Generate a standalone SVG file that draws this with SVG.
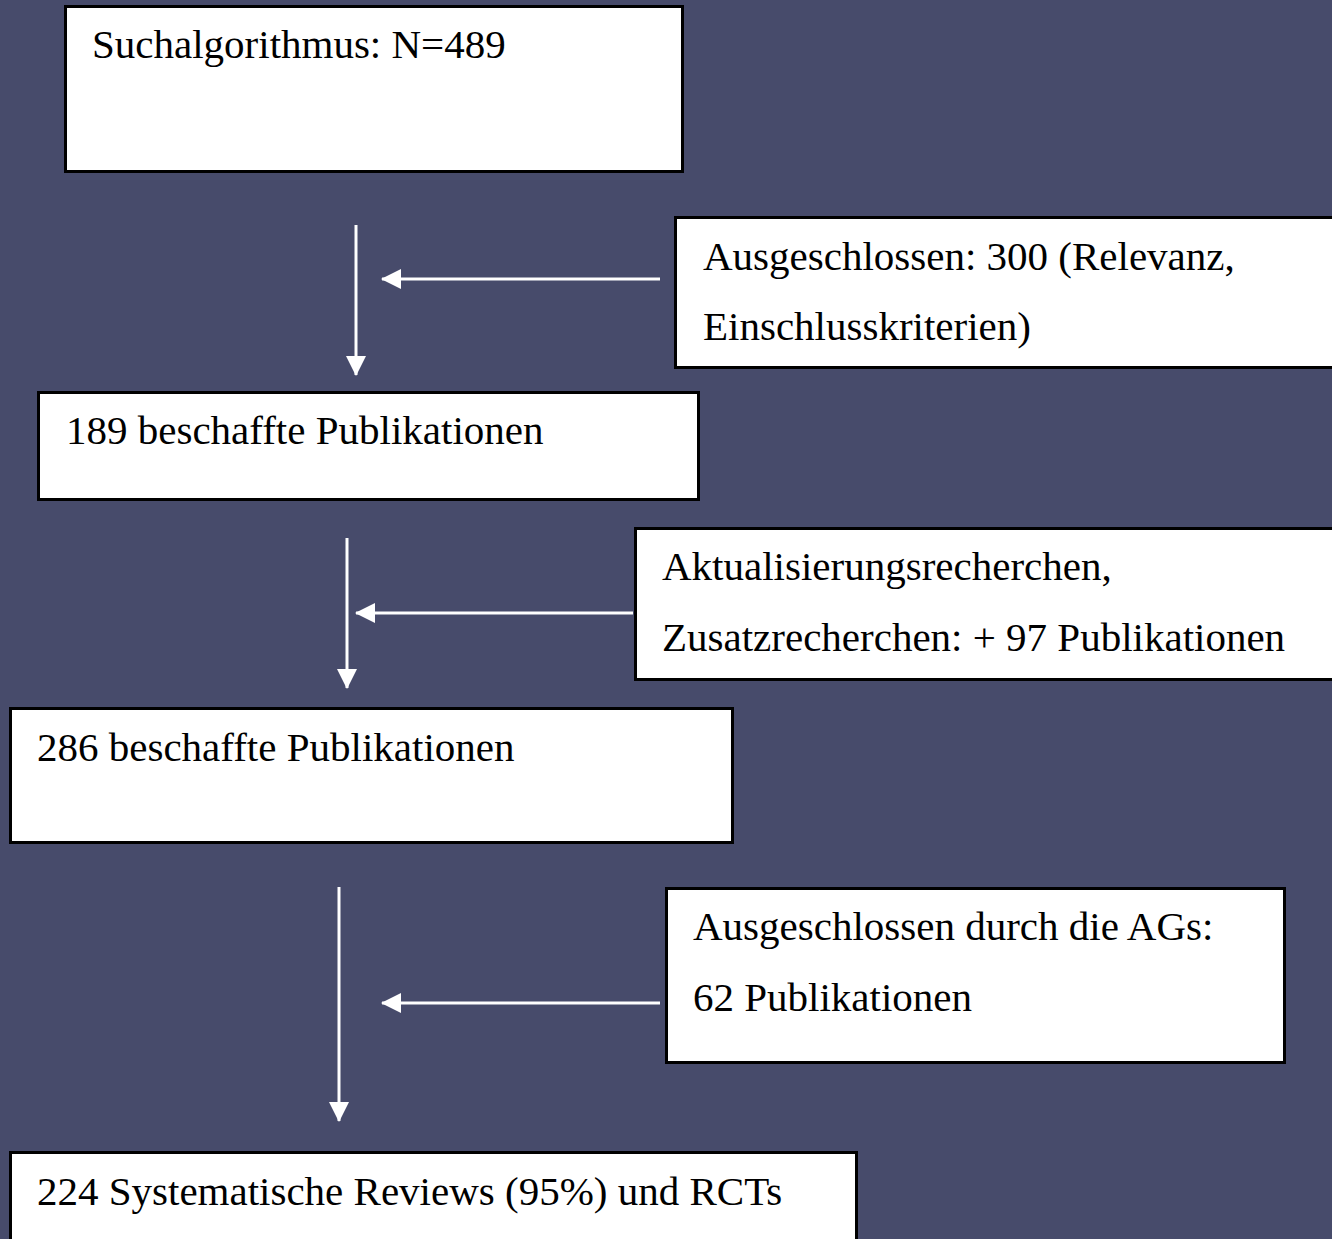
<svg xmlns="http://www.w3.org/2000/svg" width="1332" height="1239" viewBox="0 0 1332 1239">
<defs>
<style>
.box{fill:#ffffff;stroke:#000000;stroke-width:3}
.t{font-family:"Liberation Serif","Times New Roman",serif;font-size:41px;fill:#000000}
.c{stroke:#ffffff;stroke-width:3;fill:none;marker-end:url(#ah)}
</style>
<marker id="ah" markerWidth="20" markerHeight="20" refX="19" refY="10" orient="auto" markerUnits="userSpaceOnUse">
<path d="M0,0 L20,10 L0,20 Z" fill="#ffffff"/>
</marker>
</defs>
<rect x="0" y="0" width="1332" height="1239" fill="#474b6b"/>
<g id="n1"><rect class="box" x="65.5" y="6.5" width="617" height="165"/><text class="t" x="92" y="58">Suchalgorithmus: N=489</text></g>
<g id="n2"><rect class="box" x="675.5" y="217.5" width="660" height="150"/><text class="t" x="703" y="270">Ausgeschlossen: 300 (Relevanz,</text><text class="t" x="703" y="340">Einschlusskriterien)</text></g>
<g id="n3"><rect class="box" x="38.5" y="392.5" width="660" height="107"/><text class="t" x="66" y="444">189 beschaffte Publikationen</text></g>
<g id="n4"><rect class="box" x="635.5" y="528.5" width="700" height="151"/><text class="t" x="662" y="580">Aktualisierungsrecherchen,</text><text class="t" x="662" y="651">Zusatzrecherchen: + 97 Publikationen</text></g>
<g id="n5"><rect class="box" x="10.5" y="708.5" width="722" height="134"/><text class="t" x="37" y="761">286 beschaffte Publikationen</text></g>
<g id="n6"><rect class="box" x="666.5" y="888.5" width="618" height="174"/><text class="t" x="693" y="940">Ausgeschlossen durch die AGs:</text><text class="t" x="693" y="1011">62 Publikationen</text></g>
<g id="n7"><rect class="box" x="10.5" y="1152.5" width="846" height="100"/><text class="t" x="37" y="1205">224 Systematische Reviews (95%) und RCTs</text></g>
<g id="connectors">
<line class="c" x1="356" y1="225" x2="356" y2="375"/>
<line class="c" x1="660" y1="279" x2="382" y2="279"/>
<line class="c" x1="347" y1="538" x2="347" y2="688"/>
<line class="c" x1="633" y1="613" x2="356" y2="613"/>
<line class="c" x1="339" y1="887" x2="339" y2="1121"/>
<line class="c" x1="660" y1="1003" x2="382" y2="1003"/>
</g>
</svg>
